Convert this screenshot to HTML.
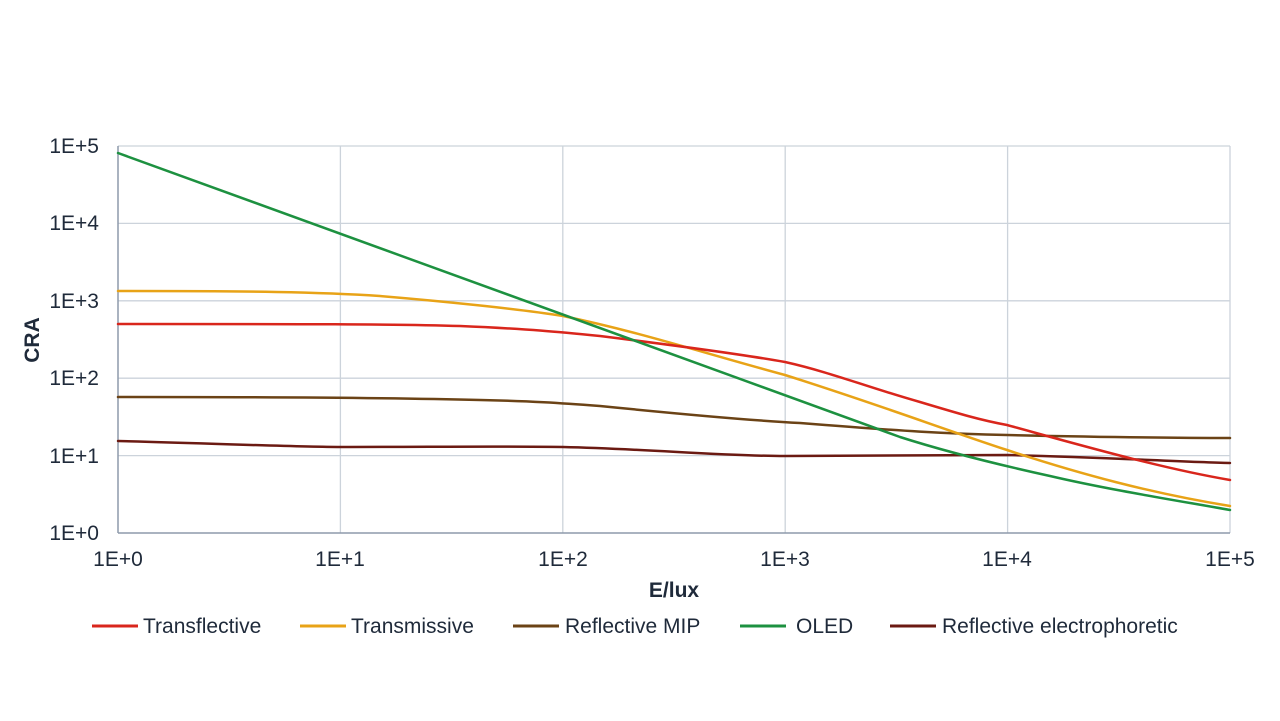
<!DOCTYPE html>
<html><head><meta charset="utf-8"><style>
html,body{margin:0;padding:0;background:#fff;}
svg{display:block;font-family:"Liberation Sans",sans-serif;}
</style></head><body>
<svg width="1280" height="721" viewBox="0 0 1280 721">
<rect width="1280" height="721" fill="#fff"/>
<g stroke="#ccd3db" stroke-width="1.3">
<line x1="118" y1="146" x2="1230" y2="146"/><line x1="118" y1="223.4" x2="1230" y2="223.4"/>
<line x1="118" y1="300.8" x2="1230" y2="300.8"/><line x1="118" y1="378.2" x2="1230" y2="378.2"/>
<line x1="118" y1="455.6" x2="1230" y2="455.6"/>
<line x1="340.4" y1="146" x2="340.4" y2="533"/><line x1="562.8" y1="146" x2="562.8" y2="533"/>
<line x1="785.2" y1="146" x2="785.2" y2="533"/><line x1="1007.6" y1="146" x2="1007.6" y2="533"/>
<line x1="1230" y1="146" x2="1230" y2="533"/>
</g>
<g stroke="#8e9aab" stroke-width="1.5"><line x1="118" y1="146" x2="118" y2="533"/><line x1="118" y1="533" x2="1230" y2="533"/></g>
<g font-size="21" fill="#1f2a3a" text-anchor="end">
<text x="99" y="153">1E+5</text><text x="99" y="230">1E+4</text><text x="99" y="308">1E+3</text>
<text x="99" y="385">1E+2</text><text x="99" y="463">1E+1</text><text x="99" y="540">1E+0</text>
</g>
<g font-size="21" fill="#1f2a3a" text-anchor="middle">
<text x="118" y="566">1E+0</text><text x="340" y="566">1E+1</text><text x="563" y="566">1E+2</text>
<text x="785" y="566">1E+3</text><text x="1007" y="566">1E+4</text><text x="1230" y="566">1E+5</text>
<text x="674" y="597" font-weight="bold">E/lux</text>
<text transform="translate(39,340) rotate(-90)" font-weight="bold">CRA</text>
</g>
<g fill="none" stroke-width="2.5" stroke-linejoin="round" stroke-linecap="round">
<path stroke="#6b1a12" d="M118,441 C230,444 300,447 340,447 C430,447 500,446 563,447 C650,449 720,456 785,456 C900,456 1007,455 1007,455 C1100,457 1180,462 1230,463"/>
<path stroke="#6b4316" d="M118,397 C250,397 400,398 480,400 C530,401 560,403 600,406 C700,416 760,421 800,423 C900,431 950,434 1007,435 C1100,437 1180,438 1230,438"/>
<path stroke="#e8a317" d="M118,291 C250,291 320,292 380,296 C440,301 520,309 563,316 C640,332 700,352 785,375 C880,405 940,428 1007,450 C1080,474 1150,493 1230,506"/>
<path stroke="#d9261c" d="M118,324 C300,324 400,324 460,326 C530,329 560,332 600,336 C680,346 740,354 785,362 C830,372 870,388 920,402 C960,414 980,420 1007,425 C1080,445 1160,468 1230,480"/>
<path stroke="#1d9140" d="M118,153 L900,437 C950,453 1000,465 1050,476 C1110,490 1180,501 1230,510"/>
</g>
<g stroke-width="3">
<line x1="92" y1="626" x2="138" y2="626" stroke="#d9261c"/>
<line x1="300" y1="626" x2="346" y2="626" stroke="#e8a317"/>
<line x1="513" y1="626" x2="559" y2="626" stroke="#6b4316"/>
<line x1="740" y1="626" x2="786" y2="626" stroke="#1d9140"/>
<line x1="890" y1="626" x2="936" y2="626" stroke="#6b1a12"/>
</g>
<g font-size="21" fill="#1f2a3a">
<text x="143" y="633">Transflective</text><text x="351" y="633">Transmissive</text>
<text x="565" y="633">Reflective MIP</text><text x="796" y="633">OLED</text>
<text x="942" y="633">Reflective electrophoretic</text>
</g>
</svg>
</body></html>
